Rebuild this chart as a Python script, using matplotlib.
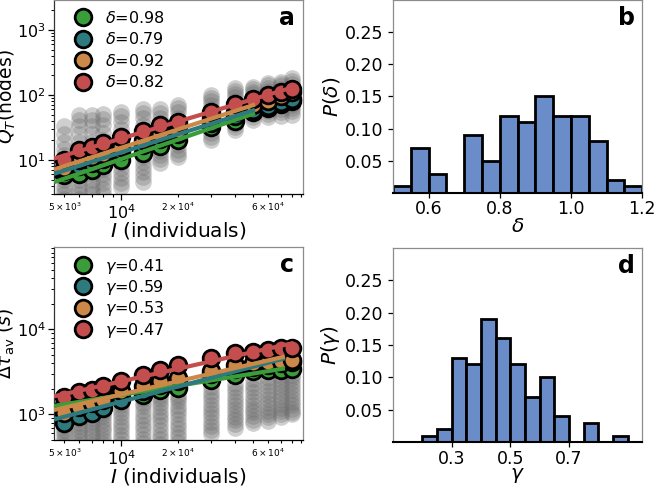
import numpy as np
import matplotlib
matplotlib.use("Agg")
import matplotlib.pyplot as plt
from matplotlib.ticker import FixedLocator, FuncFormatter, NullFormatter, LogLocator

# ---------------- data ----------------
I_vals = [5000, 6000, 7000, 8000, 10000, 13000, 16000, 20000, 30000, 40000, 50000, 60000, 70000, 80000]

# panel a: Q_T (nodes)
qa_green = [5.8, 6.0, 7.0, 8.3, 10, 13, 16.5, 20, 32, 40, 55, 63, 72, 80]
qa_teal = [6.8, 8.0, 9.0, 10.5, 14, 17, 21, 25, 37, 47, 58, 68, 78, 88]
qa_orange = [7.5, 10, 11, 12.5, 16, 20, 25, 29, 44, 55, 70, 82, 95, 110]
qa_red = [10, 14.3, 16, 18, 22.7, 28, 34, 39, 55, 72, 88, 100, 112, 125]
delta_labels = ["0.98", "0.79", "0.92", "0.82"]

gray_a = [
    [2.5, 3, 3.5, 4, 5, 6, 7, 8.5, 10, 12, 15, 19, 25, 33],
    [2.5, 3, 3.5, 4.2, 5, 6, 7, 8.5, 10, 12, 15, 19, 25, 33, 42, 50],
    [3, 3.5, 4.2, 5, 6, 7, 8.5, 10, 12, 15, 19, 25, 33, 42, 50],
    [3, 3.6, 4.4, 5.2, 6.2, 7.4, 9, 11, 13, 16, 20, 26, 34, 43, 52],
    [3.8, 4.5, 5.3, 6.3, 7.5, 9, 11, 13, 16, 19, 24, 30, 38, 47, 55],
    [4.6, 5.5, 6.5, 7.8, 9.3, 11, 13, 16, 19, 23, 28, 35, 44, 53, 62],
    [9, 10.5, 12, 14, 16.5, 19, 22, 26, 31, 37, 44, 53, 62],
    [11, 12.5, 14.5, 17, 20, 23, 27, 32, 38, 45, 54, 63, 70],
    [20, 23, 26, 30, 35, 40, 46, 53, 61, 70, 80, 90, 100],
    [29, 32, 36, 41, 47, 54, 62, 71, 81, 92, 104, 116, 128],
    [42, 46, 51, 57, 64, 72, 81, 91, 102, 113, 124, 135],
    [46, 51, 57, 64, 72, 81, 91, 102, 114, 127, 141, 155],
    [48, 54, 60, 67, 76, 86, 97, 109, 122, 136, 150, 160],
    [50, 56, 63, 71, 80, 90, 102, 115, 130, 146, 165, 185],
]

# panel c: Delta tau_av (s)
tc_green = [1300, 1430, 1550, 1710, 1600, 1700, 1950, 2040, 2550, 2920, 3220, 3300, 3350, 3450]
tc_teal = [800, 960, 1050, 1200, 1490, 1900, 2200, 2450, 3000, 3400, 3650, 3850, 4000, 4100]
tc_orange = [1050, 1220, 1370, 1490, 1870, 2140, 2440, 2670, 3250, 3810, 3990, 4170, 4250, 4400]
tc_red = [1590, 1840, 1950, 2140, 2480, 2920, 3340, 3810, 4650, 5210, 5460, 5700, 5960, 6100]
gamma_labels = ["0.41", "0.59", "0.53", "0.47"]

gray_c = [
    [400, 440, 490, 540, 600, 660, 730, 800, 870],
    [400, 440, 490, 540, 600, 660, 730, 800, 880, 960, 1000],
    [400, 440, 490, 550, 610, 680, 750, 830, 910, 990, 1050],
    [400, 450, 500, 560, 630, 700, 780, 860, 950, 1040, 1100],
    [400, 450, 510, 580, 650, 730, 820, 920, 1030, 1150, 1280, 1400],
    [400, 460, 520, 590, 670, 760, 860, 970, 1100, 1240, 1380, 1500],
    [450, 510, 580, 660, 750, 850, 960, 1080, 1220, 1370, 1520, 1650],
    [480, 540, 610, 690, 780, 880, 1000, 1130, 1270, 1420, 1570, 1700],
    [585, 650, 730, 820, 920, 1030, 1160, 1300, 1460, 1640, 1850, 2100],
    [700, 770, 850, 940, 1050, 1170, 1300, 1450, 1620, 1820, 2050, 2300],
    [800, 870, 960, 1060, 1170, 1300, 1450, 1620, 1810, 2030, 2300, 2600],
    [840, 920, 1010, 1110, 1230, 1370, 1530, 1710, 1910, 2150, 2420, 2700],
    [920, 1000, 1090, 1200, 1330, 1480, 1650, 1840, 2060, 2300, 2550, 2800],
    [1000, 1080, 1170, 1280, 1410, 1560, 1730, 1930, 2150, 2400, 2650, 2900],
]

# panel b: histogram of delta
delta_edges = [0.50, 0.55, 0.60, 0.65, 0.70, 0.75, 0.80, 0.85, 0.90, 0.95, 1.00, 1.05, 1.10, 1.15, 1.20]
delta_prob = [0.01, 0.07, 0.03, 0.0, 0.09, 0.05, 0.12, 0.11, 0.15, 0.12, 0.12, 0.08, 0.02, 0.01]

# panel d: histogram of gamma
gamma_edges = [0.20, 0.25, 0.30, 0.35, 0.40, 0.45, 0.50, 0.55, 0.60, 0.65, 0.70, 0.75, 0.80, 0.85, 0.90]
gamma_prob = [0.01, 0.02, 0.13, 0.12, 0.19, 0.16, 0.12, 0.07, 0.10, 0.04, 0.0, 0.03, 0.0, 0.01]

series_colors = ["#3a9d3a", "#2e7b7f", "#cc8848", "#c44e4e"]
bar_color = "#6a8cc8"
frame_gray = "#8c8c8c"

# ---------------- figure ----------------
fig = plt.figure(figsize=(6.54, 4.87), dpi=100)
ax_a = fig.add_axes([0.0826, 0.6016, 0.3807, 0.3984])
ax_b = fig.add_axes([0.601, 0.604, 0.381, 0.396])
ax_c = fig.add_axes([0.0826, 0.0965, 0.3807, 0.3963])
ax_d = fig.add_axes([0.601, 0.0924, 0.381, 0.3986])


def style_frame(ax, bottom_dark=True, left_dark=False):
    for s in ["top", "right"]:
        ax.spines[s].set_color(frame_gray)
        ax.spines[s].set_linewidth(0.9)
    ax.spines["left"].set_color("#333333" if left_dark else frame_gray)
    ax.spines["left"].set_linewidth(0.9)
    ax.spines["bottom"].set_color("black")
    ax.spines["bottom"].set_linewidth(1.5 if bottom_dark else 0.9)


minor_labels = {5000: r"$5\times10^{3}$", 20000: r"$2\times10^{4}$", 60000: r"$6\times10^{4}$"}


def minor_fmt(x, pos):
    for k, v in minor_labels.items():
        if abs(x - k) / k < 1e-6:
            return v
    return ""


def scatter_panel(ax, gray, series, labels, sym, ylim, ends, letter, lspace):
    ax.set_xscale("log")
    ax.set_yscale("log")
    for xv, col in zip(I_vals, gray):
        ax.plot([xv] * len(col), col, "o", ms=12, color="#6e6e6e", alpha=0.33, mew=0, zorder=1)
    handles = []
    xmin = 4500
    for vals, c, lab, xend in zip(series, series_colors, labels, ends):
        h, = ax.plot(I_vals, vals, "o", ms=12, mfc=c, mec="black", mew=2, zorder=3,
                     label=r"$\%s$=%s" % (sym, lab))
        handles.append(h)
        p = np.polyfit(np.log10(I_vals), np.log10(vals), 1)
        xl = np.array([xmin, xend])
        ax.plot(xl, 10 ** np.polyval(p, np.log10(xl)), "-", color=c, lw=3, zorder=4)
    ax.set_xlim(4400, 92000)
    ax.set_ylim(*ylim)
    ax.xaxis.set_major_locator(FixedLocator([1e4]))
    ax.xaxis.set_minor_locator(LogLocator(base=10, subs=np.arange(2, 10)))
    ax.xaxis.set_minor_formatter(FuncFormatter(minor_fmt))
    ax.tick_params(axis="x", which="major", labelsize=11.5, length=4, width=0.9, pad=2.5)
    ax.tick_params(axis="x", which="minor", labelsize=6.5, length=2.5, width=0.8, pad=2.5)
    ax.tick_params(axis="y", which="major", labelsize=11.5, length=4, width=0.9, pad=2)
    ax.tick_params(axis="y", which="minor", length=2, width=0.7)
    ax.yaxis.set_minor_formatter(NullFormatter())
    ax.set_xlabel(r"$I$ (individuals)", fontsize=14.5, labelpad=-1)
    ax.legend(handles=handles, loc="upper left", frameon=False, fontsize=11.5,
              handletextpad=0.9, labelspacing=lspace, borderaxespad=0.2,
              bbox_to_anchor=(0.045, 1.0), handlelength=1.0)
    ax.text(0.935, 0.905, letter, transform=ax.transAxes, fontsize=17,
            fontweight="bold", ha="center", va="center")
    style_frame(ax, bottom_dark=False, left_dark=True)


scatter_panel(ax_a, gray_a, [qa_green, qa_teal, qa_orange, qa_red], delta_labels,
              "delta", (3, 2900), [50000, 50000, 50000, 80000], "a", 0.35)
ax_a.set_ylabel(r"$Q_T$(nodes)", fontsize=13.5, labelpad=-0.5)

scatter_panel(ax_c, gray_c, [tc_green, tc_teal, tc_orange, tc_red], gamma_labels,
              "gamma", (500, 93000), [72000, 72000, 72000, 80000], "c", 0.15)
ax_c.set_ylabel(r"$\mathit{\Delta}\tau_{\rm av}\ (s)$", fontsize=13.5, labelpad=-0.5)


def hist_panel(ax, edges, probs, xlim, xticks, xticklabels, xlabel, ylabel, letter):
    ax.bar(edges[:-1], probs, width=np.diff(edges), align="edge", color=bar_color,
           edgecolor="black", linewidth=2, zorder=2)
    ax.set_xlim(*xlim)
    ax.set_ylim(0, 0.30)
    ax.set_yticks([0.05, 0.10, 0.15, 0.20, 0.25])
    ax.set_yticklabels(["0.05", "0.10", "0.15", "0.20", "0.25"])
    ax.set_xticks(xticks)
    ax.set_xticklabels(xticklabels)
    ax.tick_params(axis="both", labelsize=12.5, length=3.5, width=0.9)
    ax.tick_params(axis="x", pad=2)
    ax.set_xlabel(xlabel, fontsize=14.5, labelpad=-1)
    ax.set_ylabel(ylabel, fontsize=14.5, labelpad=2)
    ax.text(0.935, 0.905, letter, transform=ax.transAxes, fontsize=17,
            fontweight="bold", ha="center", va="center")
    style_frame(ax, bottom_dark=True)


hist_panel(ax_b, delta_edges, delta_prob, (0.5, 1.2), [0.6, 0.8, 1.0, 1.2],
           ["0.6", "0.8", "1.0", "1.2"], r"$\delta$", r"$P(\delta)$", "b")
hist_panel(ax_d, gamma_edges, gamma_prob, (0.1, 0.95), [0.3, 0.5, 0.7],
           ["0.3", "0.5", "0.7"], r"$\gamma$", r"$P(\gamma)$", "d")

fig.savefig("out.png", dpi=100)
